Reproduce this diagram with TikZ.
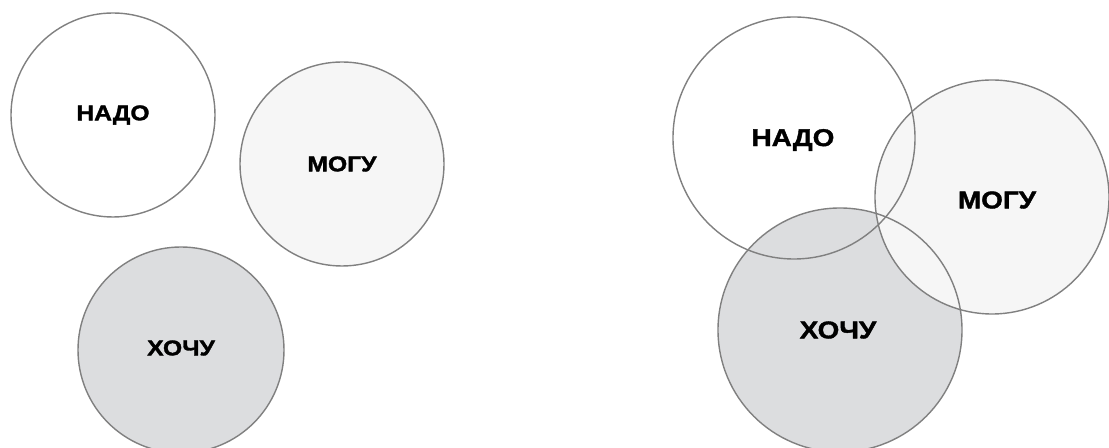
\documentclass[tikz,border=0pt]{standalone}
\usepackage{fontspec}
\newfontfamily\lblfont[FakeStretch=1.15,BoldFeatures={FakeBold=1.6}]{Liberation Sans}
\definecolor{ringgray}{HTML}{808080}
\definecolor{mogufill}{HTML}{F6F6F6}
\definecolor{hochufill}{HTML}{DCDDDF}
\begin{document}
\begin{tikzpicture}[x=0.02cm,y=-0.02cm]
\tikzset{ring/.style={circle,draw=ringgray,line width=0.8pt,inner sep=0pt},
  word/.style={font=\lblfont\bfseries\fontsize{12.2}{12}\selectfont},
  bigword/.style={font=\lblfont\bfseries\fontsize{13.8}{13.5}\selectfont}}
\useasboundingbox (0,0) rectangle (1109,448);
% separate circles
\node [ring,fill=white,minimum size=204*0.02cm] (nado1) at (113,115) {};
\node [ring,fill=mogufill,minimum size=204*0.02cm] (mogu1) at (342,164) {};
\node [ring,fill=hochufill,minimum size=206*0.02cm] (hochu1) at (181,350) {};
\node [word] (nadotext1) at (nado1) {НАДО};
\node [word] (mogutext1) at (mogu1) {МОГУ};
\node [word] (hochutext1) at (181,348) {ХОЧУ};
% overlapping circles: fills first, rings on top
\fill [white] (794,138) circle (121);
\fill [hochufill] (840,330) circle (122);
\fill [mogufill] (992,197) circle (117);
\node [ring,minimum size=242*0.02cm] (nado2) at (794,138) {};
\node [ring,minimum size=244*0.02cm] (hochu2) at (840,330) {};
\node [ring,minimum size=234*0.02cm] (mogu2) at (992,197) {};
\node [bigword] (nadotext2) at (793,140) {НАДО};
\node [bigword] (mogutext2) at (997,200) {МОГУ};
\node [bigword] (hochutext2) at (838,330) {ХОЧУ};
\end{tikzpicture}
\end{document}
